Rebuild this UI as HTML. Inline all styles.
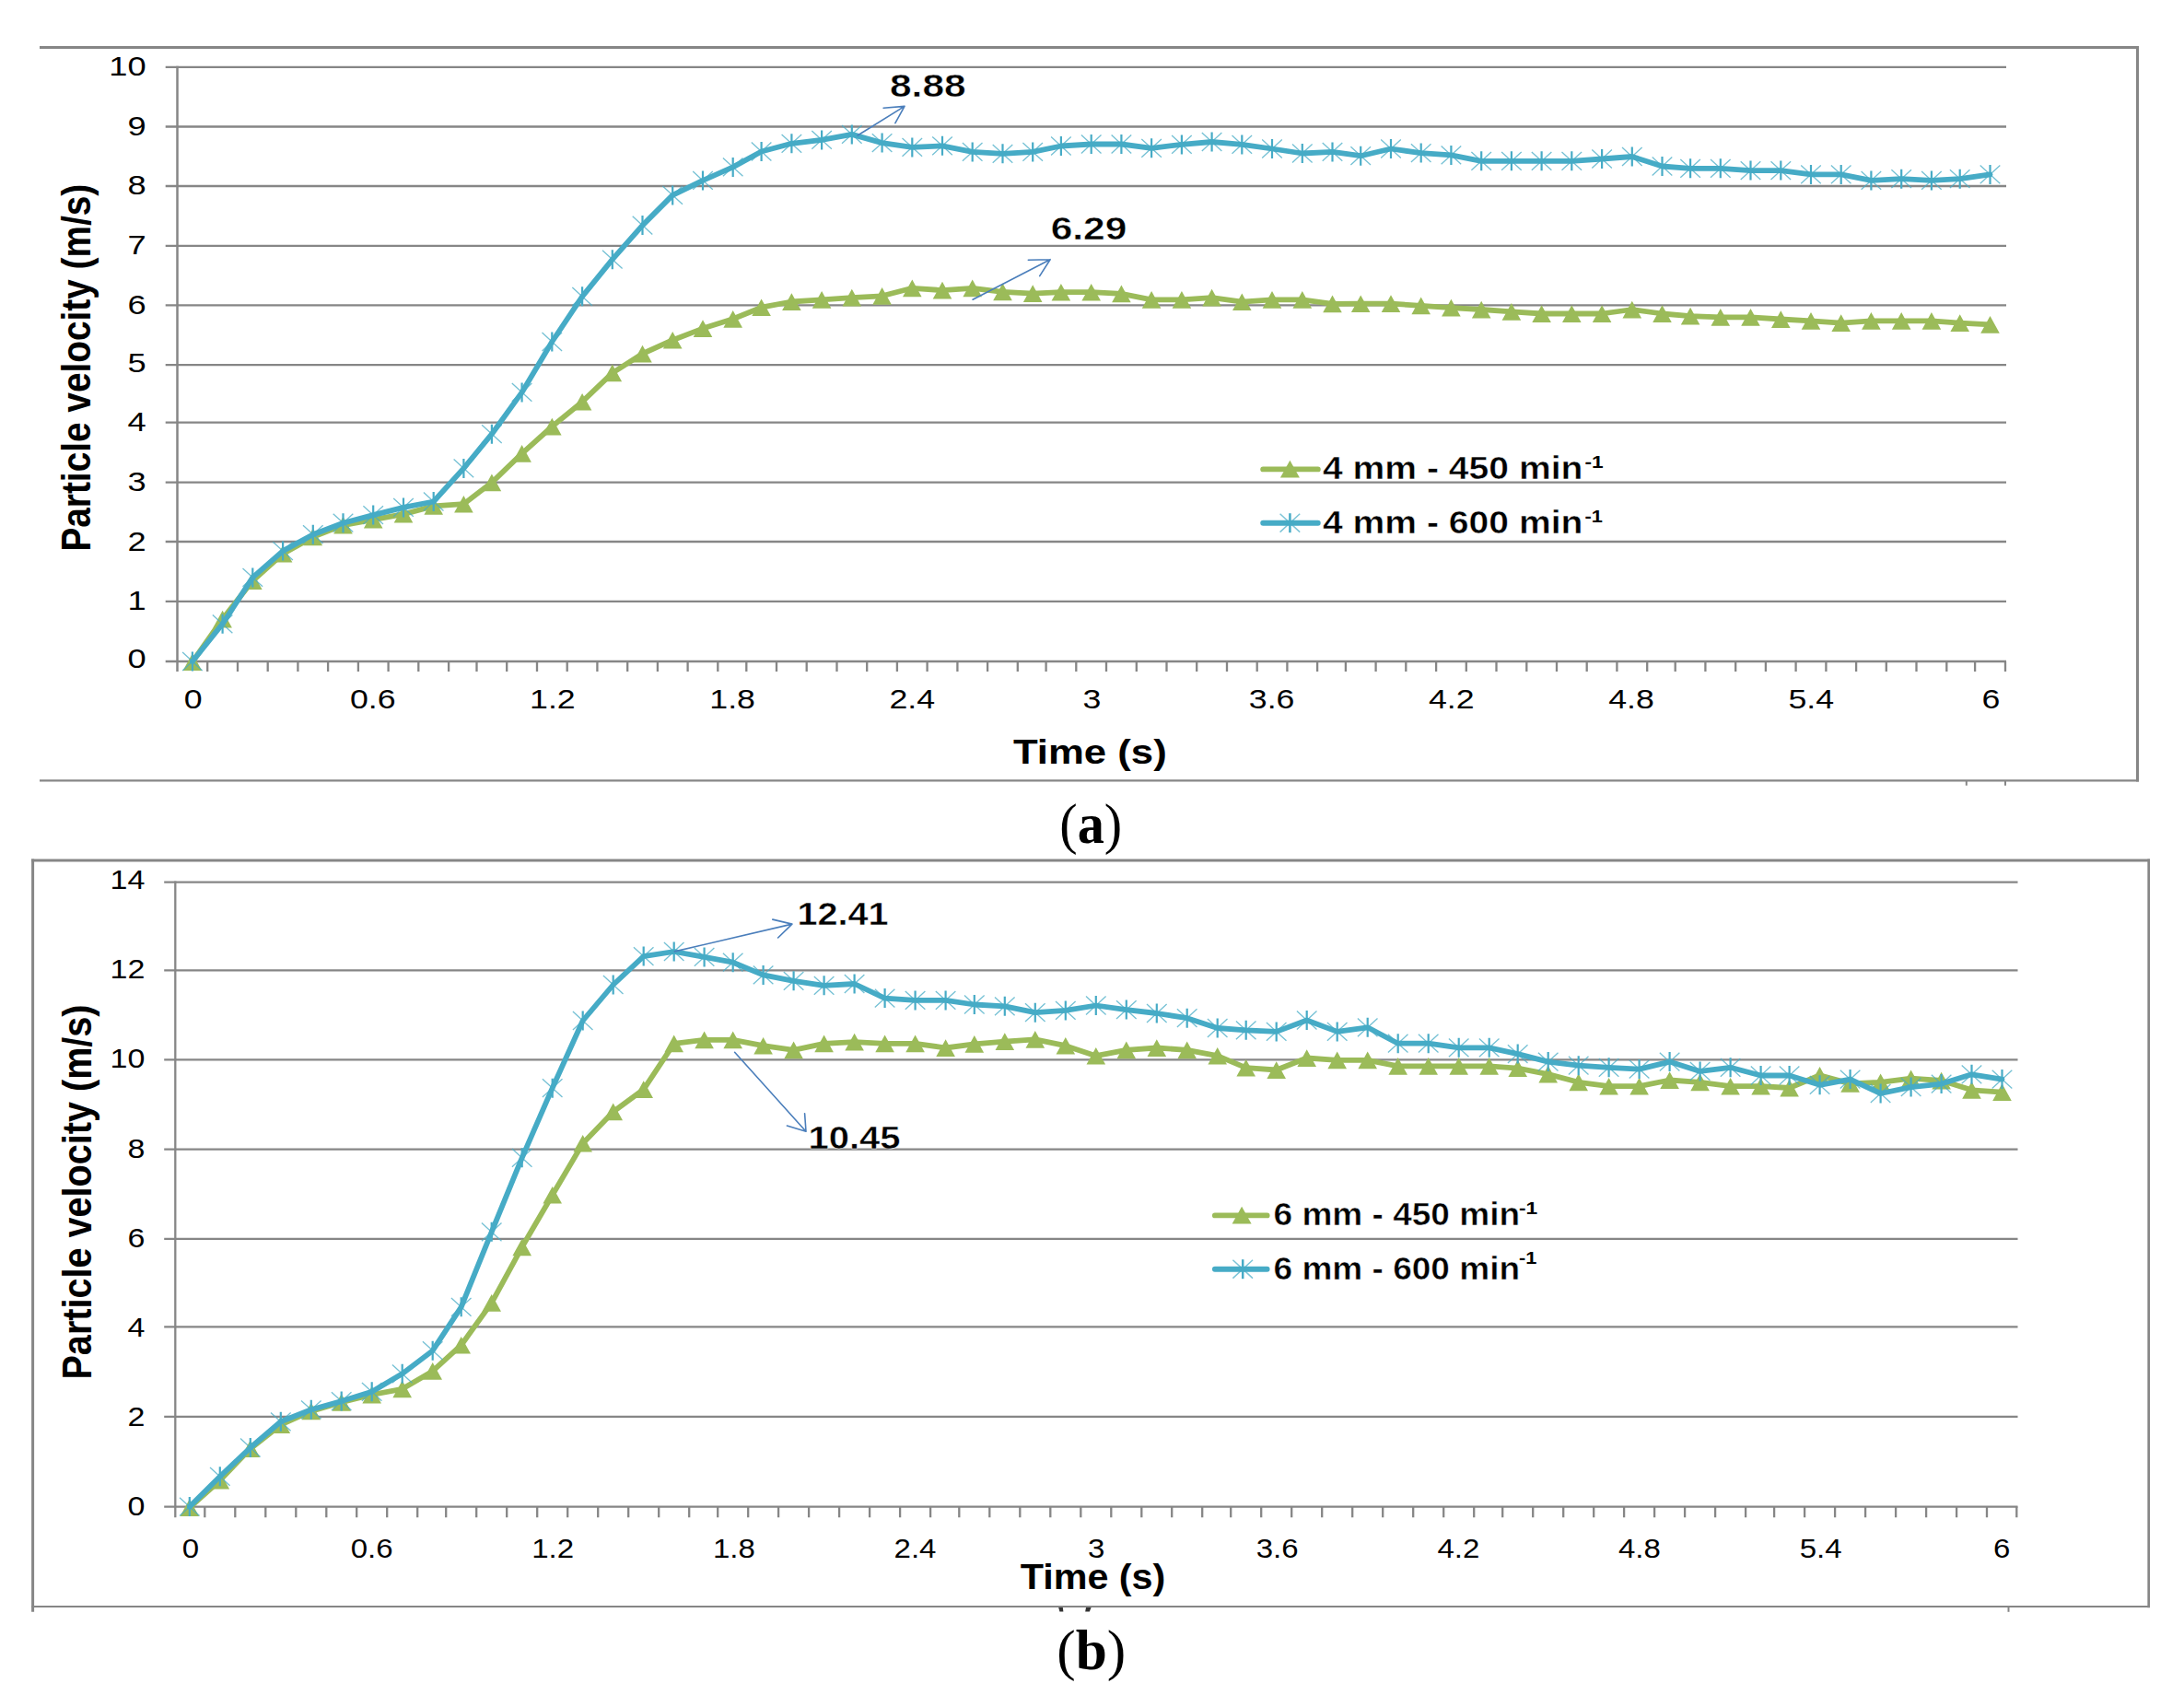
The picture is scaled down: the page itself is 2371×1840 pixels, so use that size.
<!DOCTYPE html>
<html lang="en"><head><meta charset="utf-8"><title>Particle velocity charts</title>
<style>html,body{margin:0;padding:0;background:#fff}svg{display:block}</style></head>
<body><svg width="2371" height="1840" viewBox="0 0 2371 1840">
<rect width="2371" height="1840" fill="#fff"/>
<line x1="43" y1="51.4" x2="2322" y2="51.4" stroke="#868686" stroke-width="3"/>
<line x1="2320.5" y1="50" x2="2320.5" y2="848.4" stroke="#868686" stroke-width="3"/>
<line x1="43" y1="847.3" x2="2322" y2="847.3" stroke="#868686" stroke-width="2.2"/>
<line x1="2134.8" y1="848" x2="2134.8" y2="852.7" stroke="#868686" stroke-width="2"/>
<line x1="2177" y1="848" x2="2177" y2="852.7" stroke="#868686" stroke-width="2"/>
<line x1="179.7" y1="72.8" x2="2178" y2="72.8" stroke="#868686" stroke-width="2.3"/>
<line x1="179.7" y1="137.5" x2="2178" y2="137.5" stroke="#868686" stroke-width="2.3"/>
<line x1="179.7" y1="202" x2="2178" y2="202" stroke="#868686" stroke-width="2.3"/>
<line x1="179.7" y1="266.8" x2="2178" y2="266.8" stroke="#868686" stroke-width="2.3"/>
<line x1="179.7" y1="331.4" x2="2178" y2="331.4" stroke="#868686" stroke-width="2.3"/>
<line x1="179.7" y1="396.2" x2="2178" y2="396.2" stroke="#868686" stroke-width="2.3"/>
<line x1="179.7" y1="458.7" x2="2178" y2="458.7" stroke="#868686" stroke-width="2.3"/>
<line x1="179.7" y1="523.6" x2="2178" y2="523.6" stroke="#868686" stroke-width="2.3"/>
<line x1="179.7" y1="588" x2="2178" y2="588" stroke="#868686" stroke-width="2.3"/>
<line x1="179.7" y1="652.8" x2="2178" y2="652.8" stroke="#868686" stroke-width="2.3"/>
<line x1="179.7" y1="718" x2="2178" y2="718" stroke="#868686" stroke-width="2.3"/>
<line x1="192.5" y1="71.7" x2="192.5" y2="729" stroke="#868686" stroke-width="2.5"/>
<path d="M225.2 718v11M258 718v11M290.7 718v11M323.4 718v11M356.1 718v11M388.9 718v11M421.6 718v11M454.3 718v11M487.1 718v11M517.5 718v11M550.2 718v11M583 718v11M615.7 718v11M648.4 718v11M681.2 718v11M713.9 718v11M746.6 718v11M779.3 718v11M810.3 718v11M843 718v11M875.7 718v11M908.5 718v11M941.2 718v11M973.9 718v11M1006.6 718v11M1039.4 718v11M1072.1 718v11M1104.8 718v11M1135.6 718v11M1168.3 718v11M1201 718v11M1233.8 718v11M1266.5 718v11M1299.2 718v11M1332 718v11M1364.7 718v11M1397.4 718v11M1430.1 718v11M1460.9 718v11M1493.6 718v11M1526.3 718v11M1559.1 718v11M1591.8 718v11M1624.5 718v11M1657.3 718v11M1690 718v11M1722.7 718v11M1755.4 718v11M1788.2 718v11M1818.7 718v11M1851.4 718v11M1884.2 718v11M1916.9 718v11M1949.6 718v11M1982.4 718v11M2015.1 718v11M2047.8 718v11M2080.5 718v11M2113.3 718v11M2144.1 718v11M2177 718v11" fill="none" stroke="#868686" stroke-width="2.3"/>
<text transform="translate(158.7,725) scale(1.210,1)" font-family="'Liberation Sans', Arial, sans-serif" font-size="30" text-anchor="end" fill="#000">0</text>
<text transform="translate(158.7,662.1) scale(1.210,1)" font-family="'Liberation Sans', Arial, sans-serif" font-size="30" text-anchor="end" fill="#000">1</text>
<text transform="translate(158.7,597.5) scale(1.210,1)" font-family="'Liberation Sans', Arial, sans-serif" font-size="30" text-anchor="end" fill="#000">2</text>
<text transform="translate(158.7,532.6) scale(1.210,1)" font-family="'Liberation Sans', Arial, sans-serif" font-size="30" text-anchor="end" fill="#000">3</text>
<text transform="translate(158.7,468) scale(1.210,1)" font-family="'Liberation Sans', Arial, sans-serif" font-size="30" text-anchor="end" fill="#000">4</text>
<text transform="translate(158.7,403.5) scale(1.210,1)" font-family="'Liberation Sans', Arial, sans-serif" font-size="30" text-anchor="end" fill="#000">5</text>
<text transform="translate(158.7,340.8) scale(1.210,1)" font-family="'Liberation Sans', Arial, sans-serif" font-size="30" text-anchor="end" fill="#000">6</text>
<text transform="translate(158.7,276.2) scale(1.210,1)" font-family="'Liberation Sans', Arial, sans-serif" font-size="30" text-anchor="end" fill="#000">7</text>
<text transform="translate(158.7,211.4) scale(1.210,1)" font-family="'Liberation Sans', Arial, sans-serif" font-size="30" text-anchor="end" fill="#000">8</text>
<text transform="translate(158.7,147) scale(1.210,1)" font-family="'Liberation Sans', Arial, sans-serif" font-size="30" text-anchor="end" fill="#000">9</text>
<text transform="translate(158.7,82.2) scale(1.210,1)" font-family="'Liberation Sans', Arial, sans-serif" font-size="30" text-anchor="end" fill="#000">10</text>
<text transform="translate(209.6,768.8) scale(1.190,1)" font-family="'Liberation Sans', Arial, sans-serif" font-size="30" text-anchor="middle" fill="#000">0</text>
<text transform="translate(404.7,768.8) scale(1.190,1)" font-family="'Liberation Sans', Arial, sans-serif" font-size="30" text-anchor="middle" fill="#000">0.6</text>
<text transform="translate(599.9,768.8) scale(1.190,1)" font-family="'Liberation Sans', Arial, sans-serif" font-size="30" text-anchor="middle" fill="#000">1.2</text>
<text transform="translate(795.1,768.8) scale(1.190,1)" font-family="'Liberation Sans', Arial, sans-serif" font-size="30" text-anchor="middle" fill="#000">1.8</text>
<text transform="translate(990.3,768.8) scale(1.190,1)" font-family="'Liberation Sans', Arial, sans-serif" font-size="30" text-anchor="middle" fill="#000">2.4</text>
<text transform="translate(1185.5,768.8) scale(1.190,1)" font-family="'Liberation Sans', Arial, sans-serif" font-size="30" text-anchor="middle" fill="#000">3</text>
<text transform="translate(1380.6,768.8) scale(1.190,1)" font-family="'Liberation Sans', Arial, sans-serif" font-size="30" text-anchor="middle" fill="#000">3.6</text>
<text transform="translate(1575.8,768.8) scale(1.190,1)" font-family="'Liberation Sans', Arial, sans-serif" font-size="30" text-anchor="middle" fill="#000">4.2</text>
<text transform="translate(1771,768.8) scale(1.190,1)" font-family="'Liberation Sans', Arial, sans-serif" font-size="30" text-anchor="middle" fill="#000">4.8</text>
<text transform="translate(1966.2,768.8) scale(1.190,1)" font-family="'Liberation Sans', Arial, sans-serif" font-size="30" text-anchor="middle" fill="#000">5.4</text>
<text transform="translate(2161.4,768.8) scale(1.190,1)" font-family="'Liberation Sans', Arial, sans-serif" font-size="30" text-anchor="middle" fill="#000">6</text>
<text transform="translate(98.4,399.2) rotate(-90) scale(0.862,1)" font-family="'Liberation Sans', Arial, sans-serif" font-size="45" text-anchor="middle" font-weight="bold" fill="#000">Particle velocity (m/s)</text>
<text transform="translate(1183.3,829.2) scale(1.160,1)" font-family="'Liberation Sans', Arial, sans-serif" font-size="37.7" text-anchor="middle" font-weight="bold" fill="#000">Time (s)</text>
<polyline points="208.9,718.5 241.6,672 274.3,630.5 307.1,601.2 339.8,582.9 372.5,570.1 405.2,564.2 438,558.2 470.7,549.4 503.4,547.2 533.9,523.8 566.6,492.3 599.3,463 632.1,436.2 664.8,404.9 697.5,384 730.2,369.2 763,356.6 795.7,346.3 826.6,333.7 859.4,327.5 892.1,325.4 924.8,323.1 957.6,321.3 990.3,312.8 1023,315.1 1055.7,312.8 1088.5,316.8 1121.2,318.6 1151.9,317.2 1184.7,317.2 1217.4,318.8 1250.1,325.4 1282.9,325.4 1315.6,323.1 1348.3,327.7 1381,325.4 1413.8,325.4 1446.5,329.8 1477.2,329.7 1510,329.6 1542.7,331.8 1575.4,334.1 1608.2,336 1640.9,338.3 1673.6,340.5 1706.3,340.5 1739.1,340.5 1771.8,336 1804.5,340.5 1835.1,343.1 1867.8,344.4 1900.5,344.4 1933.3,346.5 1966,348.3 1998.7,350.6 2031.4,348.3 2064.2,348.3 2096.9,348.3 2127.7,350.6 2160.5,352.4" fill="none" stroke="#9bbb59" stroke-width="5.8" stroke-linejoin="round" stroke-linecap="round"/>
<path d="M208.9 709.2l-10.3 18.7h20.6zM241.6 662.7l-10.3 18.7h20.6zM274.3 621.2l-10.3 18.7h20.6zM307.1 591.9l-10.3 18.7h20.6zM339.8 573.6l-10.3 18.7h20.6zM372.5 560.8l-10.3 18.7h20.6zM405.2 554.9l-10.3 18.7h20.6zM438 548.9l-10.3 18.7h20.6zM470.7 540.1l-10.3 18.7h20.6zM503.4 537.9l-10.3 18.7h20.6zM533.9 514.5l-10.3 18.7h20.6zM566.6 483l-10.3 18.7h20.6zM599.3 453.7l-10.3 18.7h20.6zM632.1 426.9l-10.3 18.7h20.6zM664.8 395.6l-10.3 18.7h20.6zM697.5 374.7l-10.3 18.7h20.6zM730.2 359.9l-10.3 18.7h20.6zM763 347.3l-10.3 18.7h20.6zM795.7 337l-10.3 18.7h20.6zM826.6 324.4l-10.3 18.7h20.6zM859.4 318.2l-10.3 18.7h20.6zM892.1 316.1l-10.3 18.7h20.6zM924.8 313.8l-10.3 18.7h20.6zM957.6 312l-10.3 18.7h20.6zM990.3 303.5l-10.3 18.7h20.6zM1023 305.8l-10.3 18.7h20.6zM1055.7 303.5l-10.3 18.7h20.6zM1088.5 307.5l-10.3 18.7h20.6zM1121.2 309.3l-10.3 18.7h20.6zM1151.9 307.9l-10.3 18.7h20.6zM1184.7 307.9l-10.3 18.7h20.6zM1217.4 309.5l-10.3 18.7h20.6zM1250.1 316.1l-10.3 18.7h20.6zM1282.9 316.1l-10.3 18.7h20.6zM1315.6 313.8l-10.3 18.7h20.6zM1348.3 318.4l-10.3 18.7h20.6zM1381 316.1l-10.3 18.7h20.6zM1413.8 316.1l-10.3 18.7h20.6zM1446.5 320.5l-10.3 18.7h20.6zM1477.2 320.4l-10.3 18.7h20.6zM1510 320.3l-10.3 18.7h20.6zM1542.7 322.5l-10.3 18.7h20.6zM1575.4 324.8l-10.3 18.7h20.6zM1608.2 326.7l-10.3 18.7h20.6zM1640.9 329l-10.3 18.7h20.6zM1673.6 331.2l-10.3 18.7h20.6zM1706.3 331.2l-10.3 18.7h20.6zM1739.1 331.2l-10.3 18.7h20.6zM1771.8 326.7l-10.3 18.7h20.6zM1804.5 331.2l-10.3 18.7h20.6zM1835.1 333.8l-10.3 18.7h20.6zM1867.8 335.1l-10.3 18.7h20.6zM1900.5 335.1l-10.3 18.7h20.6zM1933.3 337.2l-10.3 18.7h20.6zM1966 339l-10.3 18.7h20.6zM1998.7 341.3l-10.3 18.7h20.6zM2031.4 339l-10.3 18.7h20.6zM2064.2 339l-10.3 18.7h20.6zM2096.9 339l-10.3 18.7h20.6zM2127.7 341.3l-10.3 18.7h20.6zM2160.5 343.1l-10.3 18.7h20.6z" fill="#9bbb59"/>
<polyline points="208.9,718 241.6,677.3 274.3,626.9 307.1,598.1 339.8,580.2 372.5,567.7 405.2,559.1 438,550.9 470.7,544.5 503.4,508.4 533.9,471.2 566.6,425.9 599.3,371 632.1,321.8 664.8,281.7 697.5,244.6 730.2,211.9 763,195.9 795.7,181.4 826.6,164.5 859.4,155.8 892.1,151.9 924.8,145.9 957.6,155.1 990.3,159.9 1023,158.3 1055.7,164.9 1088.5,166.8 1121.2,164.9 1151.9,158.5 1184.7,156.5 1217.4,156.5 1250.1,160.8 1282.9,156.9 1315.6,154 1348.3,156.9 1381,161.5 1413.8,166.5 1446.5,164.9 1477.2,169.2 1510,161.5 1542.7,166.1 1575.4,168.4 1608.2,174.8 1640.9,174.8 1673.6,174.8 1706.3,174.8 1739.1,172.5 1771.8,170 1804.5,180.5 1835.1,182.8 1867.8,182.8 1900.5,185.1 1933.3,185.1 1966,189.4 1998.7,189.4 2031.4,195.9 2064.2,194.2 2096.9,195.9 2127.7,194.2 2160.5,189.4" fill="none" stroke="#46abc6" stroke-width="5.8" stroke-linejoin="round" stroke-linecap="round"/>
<path d="M208.9 707.5v21M241.6 666.8v21M274.3 616.4v21M307.1 587.6v21M339.8 569.7v21M372.5 557.2v21M405.2 548.6v21M438 540.4v21M470.7 534v21M503.4 497.9v21M533.9 460.7v21M566.6 415.4v21M599.3 360.5v21M632.1 311.3v21M664.8 271.2v21M697.5 234.1v21M730.2 201.4v21M763 185.4v21M795.7 170.9v21M826.6 154v21M859.4 145.3v21M892.1 141.4v21M924.8 135.4v21M957.6 144.6v21M990.3 149.4v21M1023 147.8v21M1055.7 154.4v21M1088.5 156.3v21M1121.2 154.4v21M1151.9 148v21M1184.7 146v21M1217.4 146v21M1250.1 150.3v21M1282.9 146.4v21M1315.6 143.5v21M1348.3 146.4v21M1381 151v21M1413.8 156v21M1446.5 154.4v21M1477.2 158.7v21M1510 151v21M1542.7 155.6v21M1575.4 157.9v21M1608.2 164.3v21M1640.9 164.3v21M1673.6 164.3v21M1706.3 164.3v21M1739.1 162v21M1771.8 159.5v21M1804.5 170v21M1835.1 172.3v21M1867.8 172.3v21M1900.5 174.6v21M1933.3 174.6v21M1966 178.9v21M1998.7 178.9v21M2031.4 185.4v21M2064.2 183.7v21M2096.9 185.4v21M2127.7 183.7v21M2160.5 178.9v21" fill="none" stroke="#46abc6" stroke-width="2.2"/>
<path d="M198.1 708.1l21.6 19.8M219.7 708.1l-21.6 19.8M230.8 667.4l21.6 19.8M252.4 667.4l-21.6 19.8M263.5 617l21.6 19.8M285.1 617l-21.6 19.8M296.3 588.2l21.6 19.8M317.9 588.2l-21.6 19.8M329 570.3l21.6 19.8M350.6 570.3l-21.6 19.8M361.7 557.8l21.6 19.8M383.3 557.8l-21.6 19.8M394.4 549.2l21.6 19.8M416 549.2l-21.6 19.8M427.2 541l21.6 19.8M448.8 541l-21.6 19.8M459.9 534.6l21.6 19.8M481.5 534.6l-21.6 19.8M492.6 498.5l21.6 19.8M514.2 498.5l-21.6 19.8M523.1 461.3l21.6 19.8M544.7 461.3l-21.6 19.8M555.8 416l21.6 19.8M577.4 416l-21.6 19.8M588.5 361.1l21.6 19.8M610.1 361.1l-21.6 19.8M621.3 311.9l21.6 19.8M642.9 311.9l-21.6 19.8M654 271.8l21.6 19.8M675.6 271.8l-21.6 19.8M686.7 234.7l21.6 19.8M708.3 234.7l-21.6 19.8M719.4 202l21.6 19.8M741 202l-21.6 19.8M752.2 186l21.6 19.8M773.8 186l-21.6 19.8M784.9 171.5l21.6 19.8M806.5 171.5l-21.6 19.8M815.8 154.6l21.6 19.8M837.4 154.6l-21.6 19.8M848.6 145.9l21.6 19.8M870.2 145.9l-21.6 19.8M881.3 142l21.6 19.8M902.9 142l-21.6 19.8M914 136l21.6 19.8M935.6 136l-21.6 19.8M946.8 145.2l21.6 19.8M968.4 145.2l-21.6 19.8M979.5 150l21.6 19.8M1001.1 150l-21.6 19.8M1012.2 148.4l21.6 19.8M1033.8 148.4l-21.6 19.8M1044.9 155l21.6 19.8M1066.5 155l-21.6 19.8M1077.7 156.9l21.6 19.8M1099.3 156.9l-21.6 19.8M1110.4 155l21.6 19.8M1132 155l-21.6 19.8M1141.1 148.6l21.6 19.8M1162.7 148.6l-21.6 19.8M1173.9 146.6l21.6 19.8M1195.5 146.6l-21.6 19.8M1206.6 146.6l21.6 19.8M1228.2 146.6l-21.6 19.8M1239.3 150.9l21.6 19.8M1260.9 150.9l-21.6 19.8M1272.1 147l21.6 19.8M1293.7 147l-21.6 19.8M1304.8 144.1l21.6 19.8M1326.4 144.1l-21.6 19.8M1337.5 147l21.6 19.8M1359.1 147l-21.6 19.8M1370.2 151.6l21.6 19.8M1391.8 151.6l-21.6 19.8M1403 156.6l21.6 19.8M1424.6 156.6l-21.6 19.8M1435.7 155l21.6 19.8M1457.3 155l-21.6 19.8M1466.4 159.3l21.6 19.8M1488 159.3l-21.6 19.8M1499.2 151.6l21.6 19.8M1520.8 151.6l-21.6 19.8M1531.9 156.2l21.6 19.8M1553.5 156.2l-21.6 19.8M1564.6 158.5l21.6 19.8M1586.2 158.5l-21.6 19.8M1597.4 164.9l21.6 19.8M1619 164.9l-21.6 19.8M1630.1 164.9l21.6 19.8M1651.7 164.9l-21.6 19.8M1662.8 164.9l21.6 19.8M1684.4 164.9l-21.6 19.8M1695.5 164.9l21.6 19.8M1717.1 164.9l-21.6 19.8M1728.3 162.6l21.6 19.8M1749.9 162.6l-21.6 19.8M1761 160.1l21.6 19.8M1782.6 160.1l-21.6 19.8M1793.7 170.6l21.6 19.8M1815.3 170.6l-21.6 19.8M1824.3 172.9l21.6 19.8M1845.9 172.9l-21.6 19.8M1857 172.9l21.6 19.8M1878.6 172.9l-21.6 19.8M1889.7 175.2l21.6 19.8M1911.3 175.2l-21.6 19.8M1922.5 175.2l21.6 19.8M1944.1 175.2l-21.6 19.8M1955.2 179.5l21.6 19.8M1976.8 179.5l-21.6 19.8M1987.9 179.5l21.6 19.8M2009.5 179.5l-21.6 19.8M2020.6 186l21.6 19.8M2042.2 186l-21.6 19.8M2053.4 184.3l21.6 19.8M2075 184.3l-21.6 19.8M2086.1 186l21.6 19.8M2107.7 186l-21.6 19.8M2116.9 184.3l21.6 19.8M2138.5 184.3l-21.6 19.8M2149.7 179.5l21.6 19.8M2171.3 179.5l-21.6 19.8" fill="none" stroke="#46abc6" stroke-width="1.3" opacity="0.75"/>
<line x1="1371.2" y1="509.4" x2="1430.8" y2="509.4" stroke="#9bbb59" stroke-width="5.9" stroke-linecap="round"/>
<path d="M1400.4 499.8l-10.5 18.7h21z" fill="#9bbb59"/>
<line x1="1371.2" y1="567.7" x2="1430.8" y2="567.7" stroke="#46abc6" stroke-width="5.9" stroke-linecap="round"/>
<path d="M1400.4 557.2v21" fill="none" stroke="#46abc6" stroke-width="2.5"/>
<path d="M1389.6 557.8l21.6 19.8M1411.2 557.8l-21.6 19.8" fill="none" stroke="#46abc6" stroke-width="1.5" opacity="0.7"/>
<text transform="translate(1436,520.4) scale(1.140,1)" font-family="'Liberation Sans', Arial, sans-serif" font-size="34.3" text-anchor="start" font-weight="bold" fill="#000" stroke="#fff" stroke-width="0.5" vector-effect="non-scaling-stroke">4 mm - 450 min</text>
<text transform="translate(1720.5,507.5) scale(1.200,1)" font-family="'Liberation Sans', Arial, sans-serif" font-size="18.9" text-anchor="start" font-weight="bold" fill="#000">-1</text>
<text transform="translate(1436,579.2) scale(1.140,1)" font-family="'Liberation Sans', Arial, sans-serif" font-size="34.3" text-anchor="start" font-weight="bold" fill="#000" stroke="#fff" stroke-width="0.5" vector-effect="non-scaling-stroke">4 mm - 600 min</text>
<text transform="translate(1720.5,567.1) scale(1.150,1)" font-family="'Liberation Sans', Arial, sans-serif" font-size="18.9" text-anchor="start" font-weight="bold" fill="#000">-1</text>
<path d="M931.1 147L982 115.4M959.1 117.2L982 115.4L971.9 133.7" fill="none" stroke="#4a7ebb" stroke-width="1.6" stroke-linecap="round" stroke-linejoin="round"/>
<text transform="translate(1007.3,104.9) scale(1.210,1)" font-family="'Liberation Sans', Arial, sans-serif" font-size="35.1" text-anchor="middle" font-weight="bold" fill="#000" stroke="#fff" stroke-width="0.5" vector-effect="non-scaling-stroke">8.88</text>
<path d="M1056 325.2L1140.1 281.7M1116.3 282.2L1140.1 281.7L1128.7 299.6" fill="none" stroke="#4a7ebb" stroke-width="1.6" stroke-linecap="round" stroke-linejoin="round"/>
<text transform="translate(1182,260) scale(1.210,1)" font-family="'Liberation Sans', Arial, sans-serif" font-size="35.1" text-anchor="middle" font-weight="bold" fill="#000" stroke="#fff" stroke-width="0.5" vector-effect="non-scaling-stroke">6.29</text>
<line x1="34" y1="934" x2="2334" y2="934" stroke="#868686" stroke-width="3"/>
<line x1="35.6" y1="932.5" x2="35.6" y2="1749.8" stroke="#868686" stroke-width="3"/>
<line x1="2332.7" y1="932.5" x2="2332.7" y2="1745.2" stroke="#868686" stroke-width="2.7"/>
<line x1="34" y1="1744" x2="2334" y2="1744" stroke="#868686" stroke-width="2.2"/>
<line x1="2180.5" y1="1745" x2="2180.5" y2="1749.8" stroke="#868686" stroke-width="2"/>
<path d="M1149.2 1745h4.6l0.6 4.6h-4z" fill="#333"/>
<path d="M1179 1745h5.6l-1.8 4.6h-4.6z" fill="#333"/>
<line x1="178.2" y1="957.6" x2="2190.5" y2="957.6" stroke="#868686" stroke-width="2.3"/>
<line x1="178.2" y1="1053.3" x2="2190.5" y2="1053.3" stroke="#868686" stroke-width="2.3"/>
<line x1="178.2" y1="1150.3" x2="2190.5" y2="1150.3" stroke="#868686" stroke-width="2.3"/>
<line x1="178.2" y1="1247.6" x2="2190.5" y2="1247.6" stroke="#868686" stroke-width="2.3"/>
<line x1="178.2" y1="1344.8" x2="2190.5" y2="1344.8" stroke="#868686" stroke-width="2.3"/>
<line x1="178.2" y1="1440.3" x2="2190.5" y2="1440.3" stroke="#868686" stroke-width="2.3"/>
<line x1="178.2" y1="1537.8" x2="2190.5" y2="1537.8" stroke="#868686" stroke-width="2.3"/>
<line x1="178.2" y1="1635.6" x2="2190.5" y2="1635.6" stroke="#868686" stroke-width="2.3"/>
<line x1="190.3" y1="956.4" x2="190.3" y2="1647.2" stroke="#868686" stroke-width="2.3"/>
<path d="M222.3 1635.6v11.6M255.3 1635.6v11.6M288.3 1635.6v11.6M321.3 1635.6v11.6M354.3 1635.6v11.6M387.2 1635.6v11.6M420.2 1635.6v11.6M453.2 1635.6v11.6M484.2 1635.6v11.6M517.2 1635.6v11.6M550.2 1635.6v11.6M583.2 1635.6v11.6M616.2 1635.6v11.6M649.2 1635.6v11.6M682.2 1635.6v11.6M715.2 1635.6v11.6M748.2 1635.6v11.6M779.2 1635.6v11.6M812.2 1635.6v11.6M845.1 1635.6v11.6M878.1 1635.6v11.6M911.1 1635.6v11.6M944.1 1635.6v11.6M977.1 1635.6v11.6M1010.1 1635.6v11.6M1041.3 1635.6v11.6M1074.3 1635.6v11.6M1107.3 1635.6v11.6M1140.3 1635.6v11.6M1173.3 1635.6v11.6M1206.3 1635.6v11.6M1239.3 1635.6v11.6M1272.2 1635.6v11.6M1305.2 1635.6v11.6M1336.2 1635.6v11.6M1369.2 1635.6v11.6M1402.2 1635.6v11.6M1435.2 1635.6v11.6M1468.2 1635.6v11.6M1501.2 1635.6v11.6M1534.2 1635.6v11.6M1567.2 1635.6v11.6M1600.2 1635.6v11.6M1631.2 1635.6v11.6M1664.2 1635.6v11.6M1697.2 1635.6v11.6M1730.2 1635.6v11.6M1763.1 1635.6v11.6M1796.1 1635.6v11.6M1829.1 1635.6v11.6M1862.1 1635.6v11.6M1895.1 1635.6v11.6M1926.1 1635.6v11.6M1959.1 1635.6v11.6M1992.1 1635.6v11.6M2025.1 1635.6v11.6M2058.1 1635.6v11.6M2091.1 1635.6v11.6M2124.1 1635.6v11.6M2157 1635.6v11.6M2189.3 1635.6v11.6" fill="none" stroke="#868686" stroke-width="2.3"/>
<text transform="translate(157.4,1645.2) scale(1.134,1)" font-family="'Liberation Sans', Arial, sans-serif" font-size="30" text-anchor="end" fill="#000">0</text>
<text transform="translate(157.4,1548) scale(1.134,1)" font-family="'Liberation Sans', Arial, sans-serif" font-size="30" text-anchor="end" fill="#000">2</text>
<text transform="translate(157.4,1450.8) scale(1.134,1)" font-family="'Liberation Sans', Arial, sans-serif" font-size="30" text-anchor="end" fill="#000">4</text>
<text transform="translate(157.4,1353.7) scale(1.134,1)" font-family="'Liberation Sans', Arial, sans-serif" font-size="30" text-anchor="end" fill="#000">6</text>
<text transform="translate(157.4,1256.6) scale(1.134,1)" font-family="'Liberation Sans', Arial, sans-serif" font-size="30" text-anchor="end" fill="#000">8</text>
<text transform="translate(157.4,1159.4) scale(1.134,1)" font-family="'Liberation Sans', Arial, sans-serif" font-size="30" text-anchor="end" fill="#000">10</text>
<text transform="translate(157.4,1062.2) scale(1.134,1)" font-family="'Liberation Sans', Arial, sans-serif" font-size="30" text-anchor="end" fill="#000">12</text>
<text transform="translate(157.4,965.1) scale(1.134,1)" font-family="'Liberation Sans', Arial, sans-serif" font-size="30" text-anchor="end" fill="#000">14</text>
<text transform="translate(207,1690.6) scale(1.100,1)" font-family="'Liberation Sans', Arial, sans-serif" font-size="30" text-anchor="middle" fill="#000">0</text>
<text transform="translate(403.6,1690.6) scale(1.100,1)" font-family="'Liberation Sans', Arial, sans-serif" font-size="30" text-anchor="middle" fill="#000">0.6</text>
<text transform="translate(600.2,1690.6) scale(1.100,1)" font-family="'Liberation Sans', Arial, sans-serif" font-size="30" text-anchor="middle" fill="#000">1.2</text>
<text transform="translate(796.8,1690.6) scale(1.100,1)" font-family="'Liberation Sans', Arial, sans-serif" font-size="30" text-anchor="middle" fill="#000">1.8</text>
<text transform="translate(993.5,1690.6) scale(1.100,1)" font-family="'Liberation Sans', Arial, sans-serif" font-size="30" text-anchor="middle" fill="#000">2.4</text>
<text transform="translate(1190.1,1690.6) scale(1.100,1)" font-family="'Liberation Sans', Arial, sans-serif" font-size="30" text-anchor="middle" fill="#000">3</text>
<text transform="translate(1386.7,1690.6) scale(1.100,1)" font-family="'Liberation Sans', Arial, sans-serif" font-size="30" text-anchor="middle" fill="#000">3.6</text>
<text transform="translate(1583.3,1690.6) scale(1.100,1)" font-family="'Liberation Sans', Arial, sans-serif" font-size="30" text-anchor="middle" fill="#000">4.2</text>
<text transform="translate(1779.9,1690.6) scale(1.100,1)" font-family="'Liberation Sans', Arial, sans-serif" font-size="30" text-anchor="middle" fill="#000">4.8</text>
<text transform="translate(1976.6,1690.6) scale(1.100,1)" font-family="'Liberation Sans', Arial, sans-serif" font-size="30" text-anchor="middle" fill="#000">5.4</text>
<text transform="translate(2173.2,1690.6) scale(1.100,1)" font-family="'Liberation Sans', Arial, sans-serif" font-size="30" text-anchor="middle" fill="#000">6</text>
<text transform="translate(99.2,1294) rotate(-90) scale(0.880,1)" font-family="'Liberation Sans', Arial, sans-serif" font-size="45" text-anchor="middle" font-weight="bold" fill="#000">Particle velocity (m/s)</text>
<text transform="translate(1186.5,1725.4) scale(1.060,1)" font-family="'Liberation Sans', Arial, sans-serif" font-size="39" text-anchor="middle" font-weight="bold" fill="#000">Time (s)</text>
<polyline points="205.8,1636.5 238.8,1607 271.8,1572.6 304.8,1546.7 337.8,1531.9 370.7,1522.3 403.7,1514 436.7,1507.8 469.7,1488.4 500.7,1460.2 533.7,1414.4 566.7,1353.8 599.7,1297.2 632.7,1241.2 665.7,1206.9 698.7,1182.6 731.7,1132.9 764.6,1128.8 795.7,1128.8 828.6,1135.2 861.6,1139.8 894.6,1132.9 927.6,1131.1 960.6,1132.9 993.6,1132.9 1026.6,1137.5 1057.8,1133.4 1090.8,1130.6 1123.8,1128.3 1156.8,1135.2 1189.8,1146.2 1222.8,1139.8 1255.8,1137.5 1288.7,1139.8 1321.7,1146.2 1352.7,1159.2 1385.7,1161.5 1418.7,1148.5 1451.7,1150.8 1484.7,1150.8 1517.7,1157.4 1550.7,1157.4 1583.7,1157.4 1616.7,1157.4 1647.7,1159.7 1680.7,1166.1 1713.7,1174.8 1746.6,1179.2 1779.6,1179.2 1812.6,1172.5 1845.6,1174.8 1878.6,1179.2 1911.6,1179.2 1942.6,1181 1975.6,1167.3 2008.6,1176.4 2041.6,1174.8 2074.6,1170.7 2107.6,1173 2140.5,1183.3 2173.5,1185.6" fill="none" stroke="#9bbb59" stroke-width="5.8" stroke-linejoin="round" stroke-linecap="round"/>
<path d="M205.8 1627.2l-10.3 18.7h20.6zM238.8 1597.7l-10.3 18.7h20.6zM271.8 1563.3l-10.3 18.7h20.6zM304.8 1537.4l-10.3 18.7h20.6zM337.8 1522.6l-10.3 18.7h20.6zM370.7 1513l-10.3 18.7h20.6zM403.7 1504.7l-10.3 18.7h20.6zM436.7 1498.5l-10.3 18.7h20.6zM469.7 1479.1l-10.3 18.7h20.6zM500.7 1450.9l-10.3 18.7h20.6zM533.7 1405.1l-10.3 18.7h20.6zM566.7 1344.5l-10.3 18.7h20.6zM599.7 1287.9l-10.3 18.7h20.6zM632.7 1231.9l-10.3 18.7h20.6zM665.7 1197.6l-10.3 18.7h20.6zM698.7 1173.3l-10.3 18.7h20.6zM731.7 1123.6l-10.3 18.7h20.6zM764.6 1119.5l-10.3 18.7h20.6zM795.7 1119.5l-10.3 18.7h20.6zM828.6 1125.9l-10.3 18.7h20.6zM861.6 1130.5l-10.3 18.7h20.6zM894.6 1123.6l-10.3 18.7h20.6zM927.6 1121.8l-10.3 18.7h20.6zM960.6 1123.6l-10.3 18.7h20.6zM993.6 1123.6l-10.3 18.7h20.6zM1026.6 1128.2l-10.3 18.7h20.6zM1057.8 1124.1l-10.3 18.7h20.6zM1090.8 1121.3l-10.3 18.7h20.6zM1123.8 1119l-10.3 18.7h20.6zM1156.8 1125.9l-10.3 18.7h20.6zM1189.8 1136.9l-10.3 18.7h20.6zM1222.8 1130.5l-10.3 18.7h20.6zM1255.8 1128.2l-10.3 18.7h20.6zM1288.7 1130.5l-10.3 18.7h20.6zM1321.7 1136.9l-10.3 18.7h20.6zM1352.7 1149.9l-10.3 18.7h20.6zM1385.7 1152.2l-10.3 18.7h20.6zM1418.7 1139.2l-10.3 18.7h20.6zM1451.7 1141.5l-10.3 18.7h20.6zM1484.7 1141.5l-10.3 18.7h20.6zM1517.7 1148.1l-10.3 18.7h20.6zM1550.7 1148.1l-10.3 18.7h20.6zM1583.7 1148.1l-10.3 18.7h20.6zM1616.7 1148.1l-10.3 18.7h20.6zM1647.7 1150.4l-10.3 18.7h20.6zM1680.7 1156.8l-10.3 18.7h20.6zM1713.7 1165.5l-10.3 18.7h20.6zM1746.6 1169.9l-10.3 18.7h20.6zM1779.6 1169.9l-10.3 18.7h20.6zM1812.6 1163.2l-10.3 18.7h20.6zM1845.6 1165.5l-10.3 18.7h20.6zM1878.6 1169.9l-10.3 18.7h20.6zM1911.6 1169.9l-10.3 18.7h20.6zM1942.6 1171.7l-10.3 18.7h20.6zM1975.6 1158l-10.3 18.7h20.6zM2008.6 1167.1l-10.3 18.7h20.6zM2041.6 1165.5l-10.3 18.7h20.6zM2074.6 1161.4l-10.3 18.7h20.6zM2107.6 1163.7l-10.3 18.7h20.6zM2140.5 1174l-10.3 18.7h20.6zM2173.5 1176.3l-10.3 18.7h20.6z" fill="#9bbb59"/>
<polyline points="205.8,1635.6 238.8,1602.8 271.8,1571.5 304.8,1543.3 337.8,1530.3 370.7,1521.1 403.7,1510.8 436.7,1491.3 469.7,1466.2 500.7,1418.8 533.7,1337.3 566.7,1256.8 599.7,1181.2 632.7,1108 665.7,1069 698.7,1038.1 731.7,1033 764.6,1038.9 795.7,1044.7 828.6,1058.4 861.6,1064.8 894.6,1069.8 927.6,1068 960.6,1083.6 993.6,1085.9 1026.6,1085.9 1057.8,1090.5 1090.8,1092.3 1123.8,1099.2 1156.8,1096.9 1189.8,1091.5 1222.8,1096.1 1255.8,1100 1288.7,1105.2 1321.7,1116 1352.7,1118.3 1385.7,1119.9 1418.7,1107.5 1451.7,1119.9 1484.7,1115.3 1517.7,1132.7 1550.7,1132.7 1583.7,1137.3 1616.7,1137.3 1647.7,1144.1 1680.7,1152.6 1713.7,1156.7 1746.6,1158.8 1779.6,1160.6 1812.6,1152.6 1845.6,1162.9 1878.6,1158.8 1911.6,1167.5 1942.6,1167.5 1975.6,1177.8 2008.6,1171.6 2041.6,1187 2074.6,1180.1 2107.6,1176.6 2140.5,1166.3 2173.5,1171.6" fill="none" stroke="#46abc6" stroke-width="5.8" stroke-linejoin="round" stroke-linecap="round"/>
<path d="M205.8 1625.1v21M238.8 1592.3v21M271.8 1561v21M304.8 1532.8v21M337.8 1519.8v21M370.7 1510.6v21M403.7 1500.3v21M436.7 1480.8v21M469.7 1455.7v21M500.7 1408.3v21M533.7 1326.8v21M566.7 1246.3v21M599.7 1170.7v21M632.7 1097.5v21M665.7 1058.5v21M698.7 1027.6v21M731.7 1022.5v21M764.6 1028.4v21M795.7 1034.2v21M828.6 1047.9v21M861.6 1054.3v21M894.6 1059.3v21M927.6 1057.5v21M960.6 1073.1v21M993.6 1075.4v21M1026.6 1075.4v21M1057.8 1080v21M1090.8 1081.8v21M1123.8 1088.7v21M1156.8 1086.4v21M1189.8 1081v21M1222.8 1085.6v21M1255.8 1089.5v21M1288.7 1094.7v21M1321.7 1105.5v21M1352.7 1107.8v21M1385.7 1109.4v21M1418.7 1097v21M1451.7 1109.4v21M1484.7 1104.8v21M1517.7 1122.2v21M1550.7 1122.2v21M1583.7 1126.8v21M1616.7 1126.8v21M1647.7 1133.6v21M1680.7 1142.1v21M1713.7 1146.2v21M1746.6 1148.3v21M1779.6 1150.1v21M1812.6 1142.1v21M1845.6 1152.4v21M1878.6 1148.3v21M1911.6 1157v21M1942.6 1157v21M1975.6 1167.3v21M2008.6 1161.1v21M2041.6 1176.5v21M2074.6 1169.6v21M2107.6 1166.1v21M2140.5 1155.8v21M2173.5 1161.1v21" fill="none" stroke="#46abc6" stroke-width="2.2"/>
<path d="M195 1625.7l21.6 19.8M216.6 1625.7l-21.6 19.8M228 1592.9l21.6 19.8M249.6 1592.9l-21.6 19.8M261 1561.6l21.6 19.8M282.6 1561.6l-21.6 19.8M294 1533.4l21.6 19.8M315.6 1533.4l-21.6 19.8M327 1520.4l21.6 19.8M348.6 1520.4l-21.6 19.8M359.9 1511.2l21.6 19.8M381.5 1511.2l-21.6 19.8M392.9 1500.9l21.6 19.8M414.5 1500.9l-21.6 19.8M425.9 1481.4l21.6 19.8M447.5 1481.4l-21.6 19.8M458.9 1456.3l21.6 19.8M480.5 1456.3l-21.6 19.8M489.9 1408.9l21.6 19.8M511.5 1408.9l-21.6 19.8M522.9 1327.4l21.6 19.8M544.5 1327.4l-21.6 19.8M555.9 1246.9l21.6 19.8M577.5 1246.9l-21.6 19.8M588.9 1171.3l21.6 19.8M610.5 1171.3l-21.6 19.8M621.9 1098.1l21.6 19.8M643.5 1098.1l-21.6 19.8M654.9 1059.1l21.6 19.8M676.5 1059.1l-21.6 19.8M687.9 1028.2l21.6 19.8M709.5 1028.2l-21.6 19.8M720.9 1023.1l21.6 19.8M742.5 1023.1l-21.6 19.8M753.8 1029l21.6 19.8M775.4 1029l-21.6 19.8M784.9 1034.8l21.6 19.8M806.5 1034.8l-21.6 19.8M817.8 1048.5l21.6 19.8M839.4 1048.5l-21.6 19.8M850.8 1054.9l21.6 19.8M872.4 1054.9l-21.6 19.8M883.8 1059.9l21.6 19.8M905.4 1059.9l-21.6 19.8M916.8 1058.1l21.6 19.8M938.4 1058.1l-21.6 19.8M949.8 1073.7l21.6 19.8M971.4 1073.7l-21.6 19.8M982.8 1076l21.6 19.8M1004.4 1076l-21.6 19.8M1015.8 1076l21.6 19.8M1037.4 1076l-21.6 19.8M1047 1080.6l21.6 19.8M1068.6 1080.6l-21.6 19.8M1080 1082.4l21.6 19.8M1101.6 1082.4l-21.6 19.8M1113 1089.3l21.6 19.8M1134.6 1089.3l-21.6 19.8M1146 1087l21.6 19.8M1167.6 1087l-21.6 19.8M1179 1081.6l21.6 19.8M1200.6 1081.6l-21.6 19.8M1212 1086.2l21.6 19.8M1233.6 1086.2l-21.6 19.8M1245 1090.1l21.6 19.8M1266.6 1090.1l-21.6 19.8M1277.9 1095.3l21.6 19.8M1299.5 1095.3l-21.6 19.8M1310.9 1106.1l21.6 19.8M1332.5 1106.1l-21.6 19.8M1341.9 1108.4l21.6 19.8M1363.5 1108.4l-21.6 19.8M1374.9 1110l21.6 19.8M1396.5 1110l-21.6 19.8M1407.9 1097.6l21.6 19.8M1429.5 1097.6l-21.6 19.8M1440.9 1110l21.6 19.8M1462.5 1110l-21.6 19.8M1473.9 1105.4l21.6 19.8M1495.5 1105.4l-21.6 19.8M1506.9 1122.8l21.6 19.8M1528.5 1122.8l-21.6 19.8M1539.9 1122.8l21.6 19.8M1561.5 1122.8l-21.6 19.8M1572.9 1127.4l21.6 19.8M1594.5 1127.4l-21.6 19.8M1605.9 1127.4l21.6 19.8M1627.5 1127.4l-21.6 19.8M1636.9 1134.2l21.6 19.8M1658.5 1134.2l-21.6 19.8M1669.9 1142.7l21.6 19.8M1691.5 1142.7l-21.6 19.8M1702.9 1146.8l21.6 19.8M1724.5 1146.8l-21.6 19.8M1735.8 1148.9l21.6 19.8M1757.4 1148.9l-21.6 19.8M1768.8 1150.7l21.6 19.8M1790.4 1150.7l-21.6 19.8M1801.8 1142.7l21.6 19.8M1823.4 1142.7l-21.6 19.8M1834.8 1153l21.6 19.8M1856.4 1153l-21.6 19.8M1867.8 1148.9l21.6 19.8M1889.4 1148.9l-21.6 19.8M1900.8 1157.6l21.6 19.8M1922.4 1157.6l-21.6 19.8M1931.8 1157.6l21.6 19.8M1953.4 1157.6l-21.6 19.8M1964.8 1167.9l21.6 19.8M1986.4 1167.9l-21.6 19.8M1997.8 1161.7l21.6 19.8M2019.4 1161.7l-21.6 19.8M2030.8 1177.1l21.6 19.8M2052.4 1177.1l-21.6 19.8M2063.8 1170.2l21.6 19.8M2085.4 1170.2l-21.6 19.8M2096.8 1166.7l21.6 19.8M2118.4 1166.7l-21.6 19.8M2129.7 1156.4l21.6 19.8M2151.3 1156.4l-21.6 19.8M2162.7 1161.7l21.6 19.8M2184.3 1161.7l-21.6 19.8" fill="none" stroke="#46abc6" stroke-width="1.3" opacity="0.75"/>
<line x1="1318.9" y1="1319.4" x2="1375.6" y2="1319.4" stroke="#9bbb59" stroke-width="5.9" stroke-linecap="round"/>
<path d="M1348.1 1309.8l-10.5 18.7h21z" fill="#9bbb59"/>
<line x1="1318.9" y1="1377.7" x2="1375.6" y2="1377.7" stroke="#46abc6" stroke-width="5.9" stroke-linecap="round"/>
<path d="M1349.2 1367.2v21" fill="none" stroke="#46abc6" stroke-width="2.5"/>
<path d="M1338.4 1367.8l21.6 19.8M1360 1367.8l-21.6 19.8" fill="none" stroke="#46abc6" stroke-width="1.5" opacity="0.7"/>
<text transform="translate(1382.5,1330.4) scale(1.080,1)" font-family="'Liberation Sans', Arial, sans-serif" font-size="34.3" text-anchor="start" font-weight="bold" fill="#000" stroke="#fff" stroke-width="0.5" vector-effect="non-scaling-stroke">6 mm - 450 min</text>
<text transform="translate(1649,1318) scale(1.200,1)" font-family="'Liberation Sans', Arial, sans-serif" font-size="18.9" text-anchor="start" font-weight="bold" fill="#000">-1</text>
<text transform="translate(1382.5,1389.2) scale(1.080,1)" font-family="'Liberation Sans', Arial, sans-serif" font-size="34.3" text-anchor="start" font-weight="bold" fill="#000" stroke="#fff" stroke-width="0.5" vector-effect="non-scaling-stroke">6 mm - 600 min</text>
<text transform="translate(1649,1372.3) scale(1.150,1)" font-family="'Liberation Sans', Arial, sans-serif" font-size="18.9" text-anchor="start" font-weight="bold" fill="#000">-1</text>
<path d="M732.4 1032.9L859.9 1003.1M838.8 998.1L859.9 1003.1L844.6 1018" fill="none" stroke="#4a7ebb" stroke-width="1.6" stroke-linecap="round" stroke-linejoin="round"/>
<text transform="translate(915,1003.8) scale(1.150,1)" font-family="'Liberation Sans', Arial, sans-serif" font-size="34.5" text-anchor="middle" font-weight="bold" fill="#000" stroke="#fff" stroke-width="0.5" vector-effect="non-scaling-stroke">12.41</text>
<path d="M797.6 1142.3L875 1228.2M854.4 1222L875 1228.2L873.6 1208.7" fill="none" stroke="#4a7ebb" stroke-width="1.6" stroke-linecap="round" stroke-linejoin="round"/>
<text transform="translate(927.5,1246.5) scale(1.140,1)" font-family="'Liberation Sans', Arial, sans-serif" font-size="35.1" text-anchor="middle" font-weight="bold" fill="#000" stroke="#fff" stroke-width="0.5" vector-effect="non-scaling-stroke">10.45</text>
<text transform="translate(1184.2,914.6) scale(0.94,1)" font-family="'Liberation Serif', 'Times New Roman', serif" font-size="62" text-anchor="middle" fill="#000">(<tspan font-weight="bold">a</tspan>)</text>
<text transform="translate(1184.7,1811.7) scale(0.99,1)" font-family="'Liberation Serif', 'Times New Roman', serif" font-size="62" text-anchor="middle" fill="#000">(<tspan font-weight="bold">b</tspan>)</text>
</svg></body></html>
